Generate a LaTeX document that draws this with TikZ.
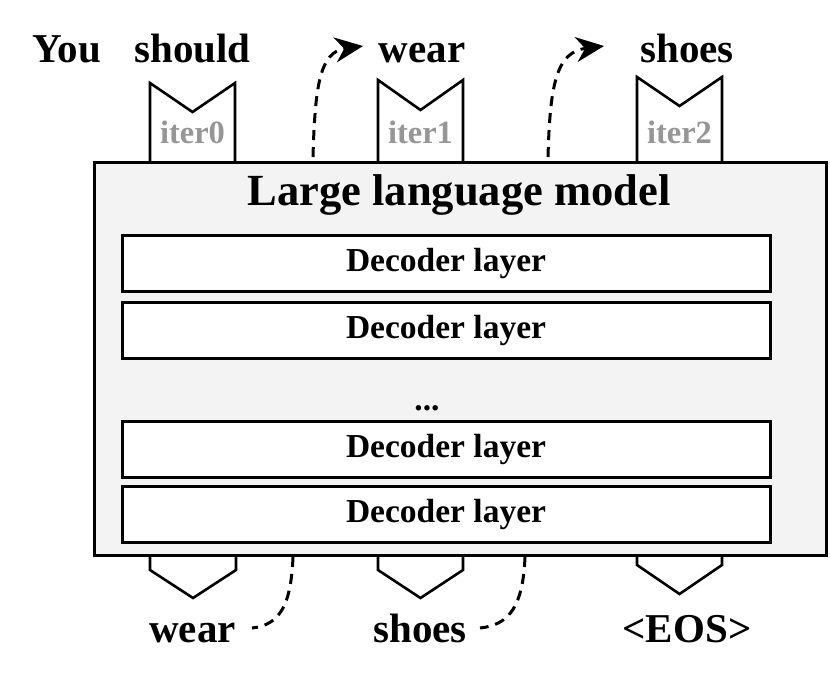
\documentclass[tikz,border=0pt]{standalone}
\usepackage{fontspec}
\setmainfont{Liberation Serif}
\usetikzlibrary{arrows.meta}
\definecolor{boxgray}{RGB}{243,243,243}
\definecolor{itergray}{RGB}{150,150,150}
\begin{document}
\begin{tikzpicture}[x=1pt,y=-1pt,
  llm/.style={draw, line width=3pt, fill=boxgray, inner sep=0pt, minimum width=732pt, minimum height=393pt},
  layer/.style={draw, line width=3pt, fill=white, inner sep=0pt, minimum width=648pt, minimum height=56pt, font=\fontsize{33.5}{33.5}\selectfont\bfseries},
  word/.style={anchor=base, inner sep=0pt, font=\fontsize{41}{41}\selectfont\bfseries},
  title/.style={anchor=base, inner sep=0pt, font=\fontsize{44.5}{44.5}\selectfont\bfseries},
  iterlbl/.style={anchor=base, inner sep=0pt, text=itergray, font=\fontsize{32.5}{32.5}\selectfont\bfseries},
  dots/.style={anchor=base, inner sep=0pt, font=\fontsize{33.5}{33.5}\selectfont\bfseries},
  chev/.style={draw, line width=2.6pt, fill=white, line join=miter},
  flow/.style={line width=3pt, dash pattern=on 10pt off 7pt},
  tip/.style={-{Stealth[length=28pt, width=25pt, inset=9pt]}},
]
\useasboundingbox (0,0) rectangle (830,681);

% top notched boxes
\draw[chev] (150,162) -- (150,83) -- (192.5,112) -- (235,83) -- (235,162);
\draw[chev] (378,162) -- (378,80) -- (420.5,110) -- (463,80) -- (463,162);
\draw[chev] (637,162) -- (637,77) -- (679.5,106) -- (722,77) -- (722,162);

% bottom chevrons
\draw[chev] (150,555) -- (150,570) -- (193,598) -- (236,570) -- (236,555);
\draw[chev] (378,555) -- (378,570) -- (420.5,598) -- (463,570) -- (463,555);
\draw[chev] (637,555) -- (637,565) -- (679.5,594) -- (722,565) -- (722,555);

% main box
\node[llm] (llm) at (460,358.5) {};
\node[title] (ttl) at (459,205) {Large language model};
\node[layer] (d1) at (446,263) {Decoder layer};
\node[layer] (d2) at (446,330.5) {Decoder layer};
\node[dots] (dd) at (427,410) {...};
\node[layer] (d3) at (446,449) {Decoder layer};
\node[layer] (d4) at (446,514) {Decoder layer};

% iteration labels
\node[iterlbl] (it0) at (192.5,143) {iter0};
\node[iterlbl] (it1) at (420.5,143) {iter1};
\node[iterlbl] (it2) at (679.5,143) {iter2};

% top words
\node[word] (you) at (67,62) {You};
\node[word] (should) at (192.5,62) {should};
\node[word] (wearT) at (422,62) {wear};
\node[word] (shoesT) at (687,62) {shoes};

% bottom words
\node[word] (wearB) at (192.5,642) {wear};
\node[word] (shoesB) at (420,642) {shoes};
\node[word] (eos) at (687,642) {<EOS>};

% connector end points
\coordinate (u1s) at (313,157);
\coordinate (u1e) at (363,46);
\coordinate (u2s) at (548,157);
\coordinate (u2e) at (604,46);
\coordinate (b1s) at (293,557);
\coordinate (b1e) at (252,628);
\coordinate (b2s) at (525,557);
\coordinate (b2e) at (480,628);

\draw[flow, tip] (u1s) .. controls (315,85) and (320,52) .. (u1e);
\draw[flow, tip] (u2s) .. controls (550,85) and (556,52) .. (u2e);
\draw[flow] (b1s) .. controls (291,605) and (280,625) .. (b1e);
\draw[flow] (b2s) .. controls (523,605) and (510,625) .. (b2e);
\end{tikzpicture}
\end{document}
